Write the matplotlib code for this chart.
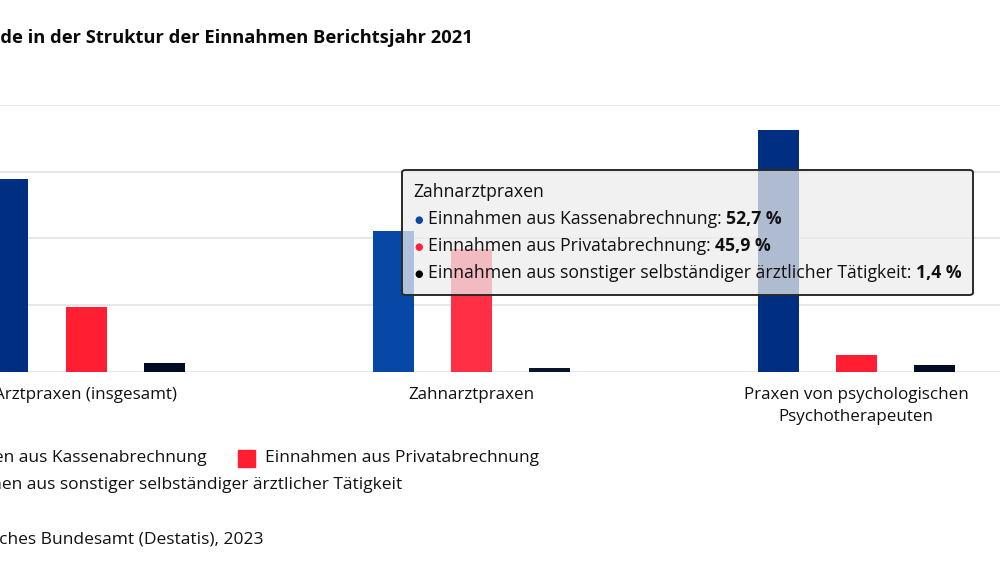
import matplotlib
matplotlib.use("Agg")
import matplotlib.pyplot as plt
from matplotlib.patches import FancyBboxPatch, Rectangle
import numpy as np

# ---- data ----
categories = ["Arztpraxen (insgesamt)", "Zahnarztpraxen",
              "Praxen von psychologischen\nPsychotherapeuten"]
series_names = ["Einnahmen aus Kassenabrechnung",
                "Einnahmen aus Privatabrechnung",
                "Einnahmen aus sonstiger selbständiger ärztlicher Tätigkeit"]
kassen = [72.3, 52.7, 90.8]
privat = [24.4, 45.9, 6.3]
sonstige = [3.2, 1.4, 2.6]
yticks = [0, 25, 50, 75, 100]
title = "Unterschiede in der Struktur der Einnahmen Berichtsjahr 2021"
source = "Quelle: Statistisches Bundesamt (Destatis), 2023"
tooltip_cat = "Zahnarztpraxen"
tooltip_vals = ["52,7 %", "45,9 %", "1,4 %"]

# ---- style ----
FONT = "Open Sans"
W, H = 1000, 562
navy = "#002f82"
red = "#ff1e32"
black = "#000c24"
hover = ["#0747a6", "#ff3045", "#08152e"]
bullet_cols = ["#0747a6", "#ff2040", "#000000"]
txt_col = "#111111"

fig = plt.figure(figsize=(W / 100, H / 100), dpi=100)
fig.patch.set_facecolor("white")
renderer = fig.canvas.get_renderer()


def fx(px):
    return px / W


def fy(py):
    return 1 - py / H


def width_of(s, size, weight="normal"):
    t = fig.text(0, 0, s, fontsize=size, family=FONT, weight=weight)
    w = t.get_window_extent(renderer).width
    t.remove()
    return w


def fit(s, target, weight="normal"):
    return 12 * target / width_of(s, 12, weight)


# axes: baseline at y=371.7px, 100 at y=105px ; x: group centres at 86 + 385*i
y0, y1 = 371.7, 105.0
ax = fig.add_axes([0, fy(y0), 1, (y0 - y1) / H])
ax.set_xlim(-86 / 385, 914 / 385)
ax.set_ylim(0, 100)
ax.set_facecolor("none")

x = np.arange(len(categories))
bw = 41 / 385
off = 78 / 385
c_k = [navy, hover[0], navy]
c_p = [red, hover[1], red]
c_s = [black, hover[2], black]
ax.bar(x - off, kassen, bw, color=c_k, zorder=2)
ax.bar(x, privat, bw, color=c_p, zorder=2)
ax.bar(x + off, sonstige, bw, color=c_s, zorder=2)

ax.set_yticks(yticks)
ax.yaxis.grid(True, color="#e3e3e3", linewidth=1.2, zorder=0)
ax.tick_params(axis="y", left=False, labelleft=False)
for sp in ax.spines.values():
    sp.set_visible(False)

cat_size = fit("Zahnarztpraxen", 126)
ax.set_xticks(x)
ax.set_xticklabels(categories, fontsize=cat_size, family=FONT, color=txt_col,
                   linespacing=1.5)
ax.tick_params(axis="x", length=0, pad=11)

# title (clipped on the left, like the reference)
t_size = fit("de in der Struktur der Einnahmen Berichtsjahr 2021", 471, "bold")
fig.text(fx(473), fy(38), title, ha="right", va="center", fontsize=t_size,
         family=FONT, weight="bold", color="#0a0a0a")

# legend
leg_size = fit(series_names[1], 273)
sq = 17
# row 1: Kassen (text ends at 207)
wk = width_of(series_names[0], leg_size)
fig.text(fx(207), fy(458), series_names[0], ha="right", va="center",
         fontsize=leg_size, family=FONT, color=txt_col)
fig.add_artist(Rectangle((fx(207 - wk - 10 - sq), fy(458 + sq / 2)), sq / W, sq / H,
                         transform=fig.transFigure, color=navy))
fig.add_artist(Rectangle((fx(237.5), fy(458 + sq / 2)), sq / W, sq / H,
                         transform=fig.transFigure, color=red))
fig.text(fx(265), fy(458), series_names[1], ha="left", va="center",
         fontsize=leg_size, family=FONT, color=txt_col)
# row 2
ws = width_of(series_names[2], leg_size)
fig.text(fx(402), fy(485), series_names[2], ha="right", va="center",
         fontsize=leg_size, family=FONT, color=txt_col)
fig.add_artist(Rectangle((fx(402 - ws - 10 - sq), fy(485 + sq / 2)), sq / W, sq / H,
                         transform=fig.transFigure, color=black))

# source
fig.text(fx(263), fy(540), source, ha="right", va="center", fontsize=leg_size,
         family=FONT, color=txt_col)

# tooltip
box = FancyBboxPatch((fx(402), fy(295)), (973 - 402) / W, (295 - 170) / H,
                     boxstyle="round,pad=0,rounding_size=0.004",
                     transform=fig.transFigure, facecolor=(0.93, 0.93, 0.935, 0.74),
                     edgecolor="#2a2a2a", linewidth=1.4, zorder=10)
fig.add_artist(box)
row3 = series_names[2] + ": "
tip_size = 12 * 531 / (width_of(row3, 12) + width_of(tooltip_vals[2], 12, "bold"))
fig.text(fx(413), fy(192), tooltip_cat, ha="left", va="center", fontsize=tip_size,
         family=FONT, color=txt_col, zorder=11)
rows_y = [219, 246, 273]
for name, val, col, yy in zip(series_names, tooltip_vals, bullet_cols, rows_y):
    fig.text(fx(419), fy(yy + 1), "●", ha="center", va="center", fontsize=7,
             family="DejaVu Sans", color=col, zorder=11)
    t1 = fig.text(fx(428), fy(yy), name + ": ", ha="left", va="center",
                  fontsize=tip_size, family=FONT, color=txt_col, zorder=11)
    a = plt.annotate(val, xy=(1, 0), xycoords=t1, ha="left", va="bottom",
                     fontsize=tip_size, family=FONT, weight="bold", color=txt_col,
                     annotation_clip=False)
    a.remove()
    fig.add_artist(a)
    a.set_zorder(11)

fig.savefig("out.png", dpi=100, facecolor="white")
